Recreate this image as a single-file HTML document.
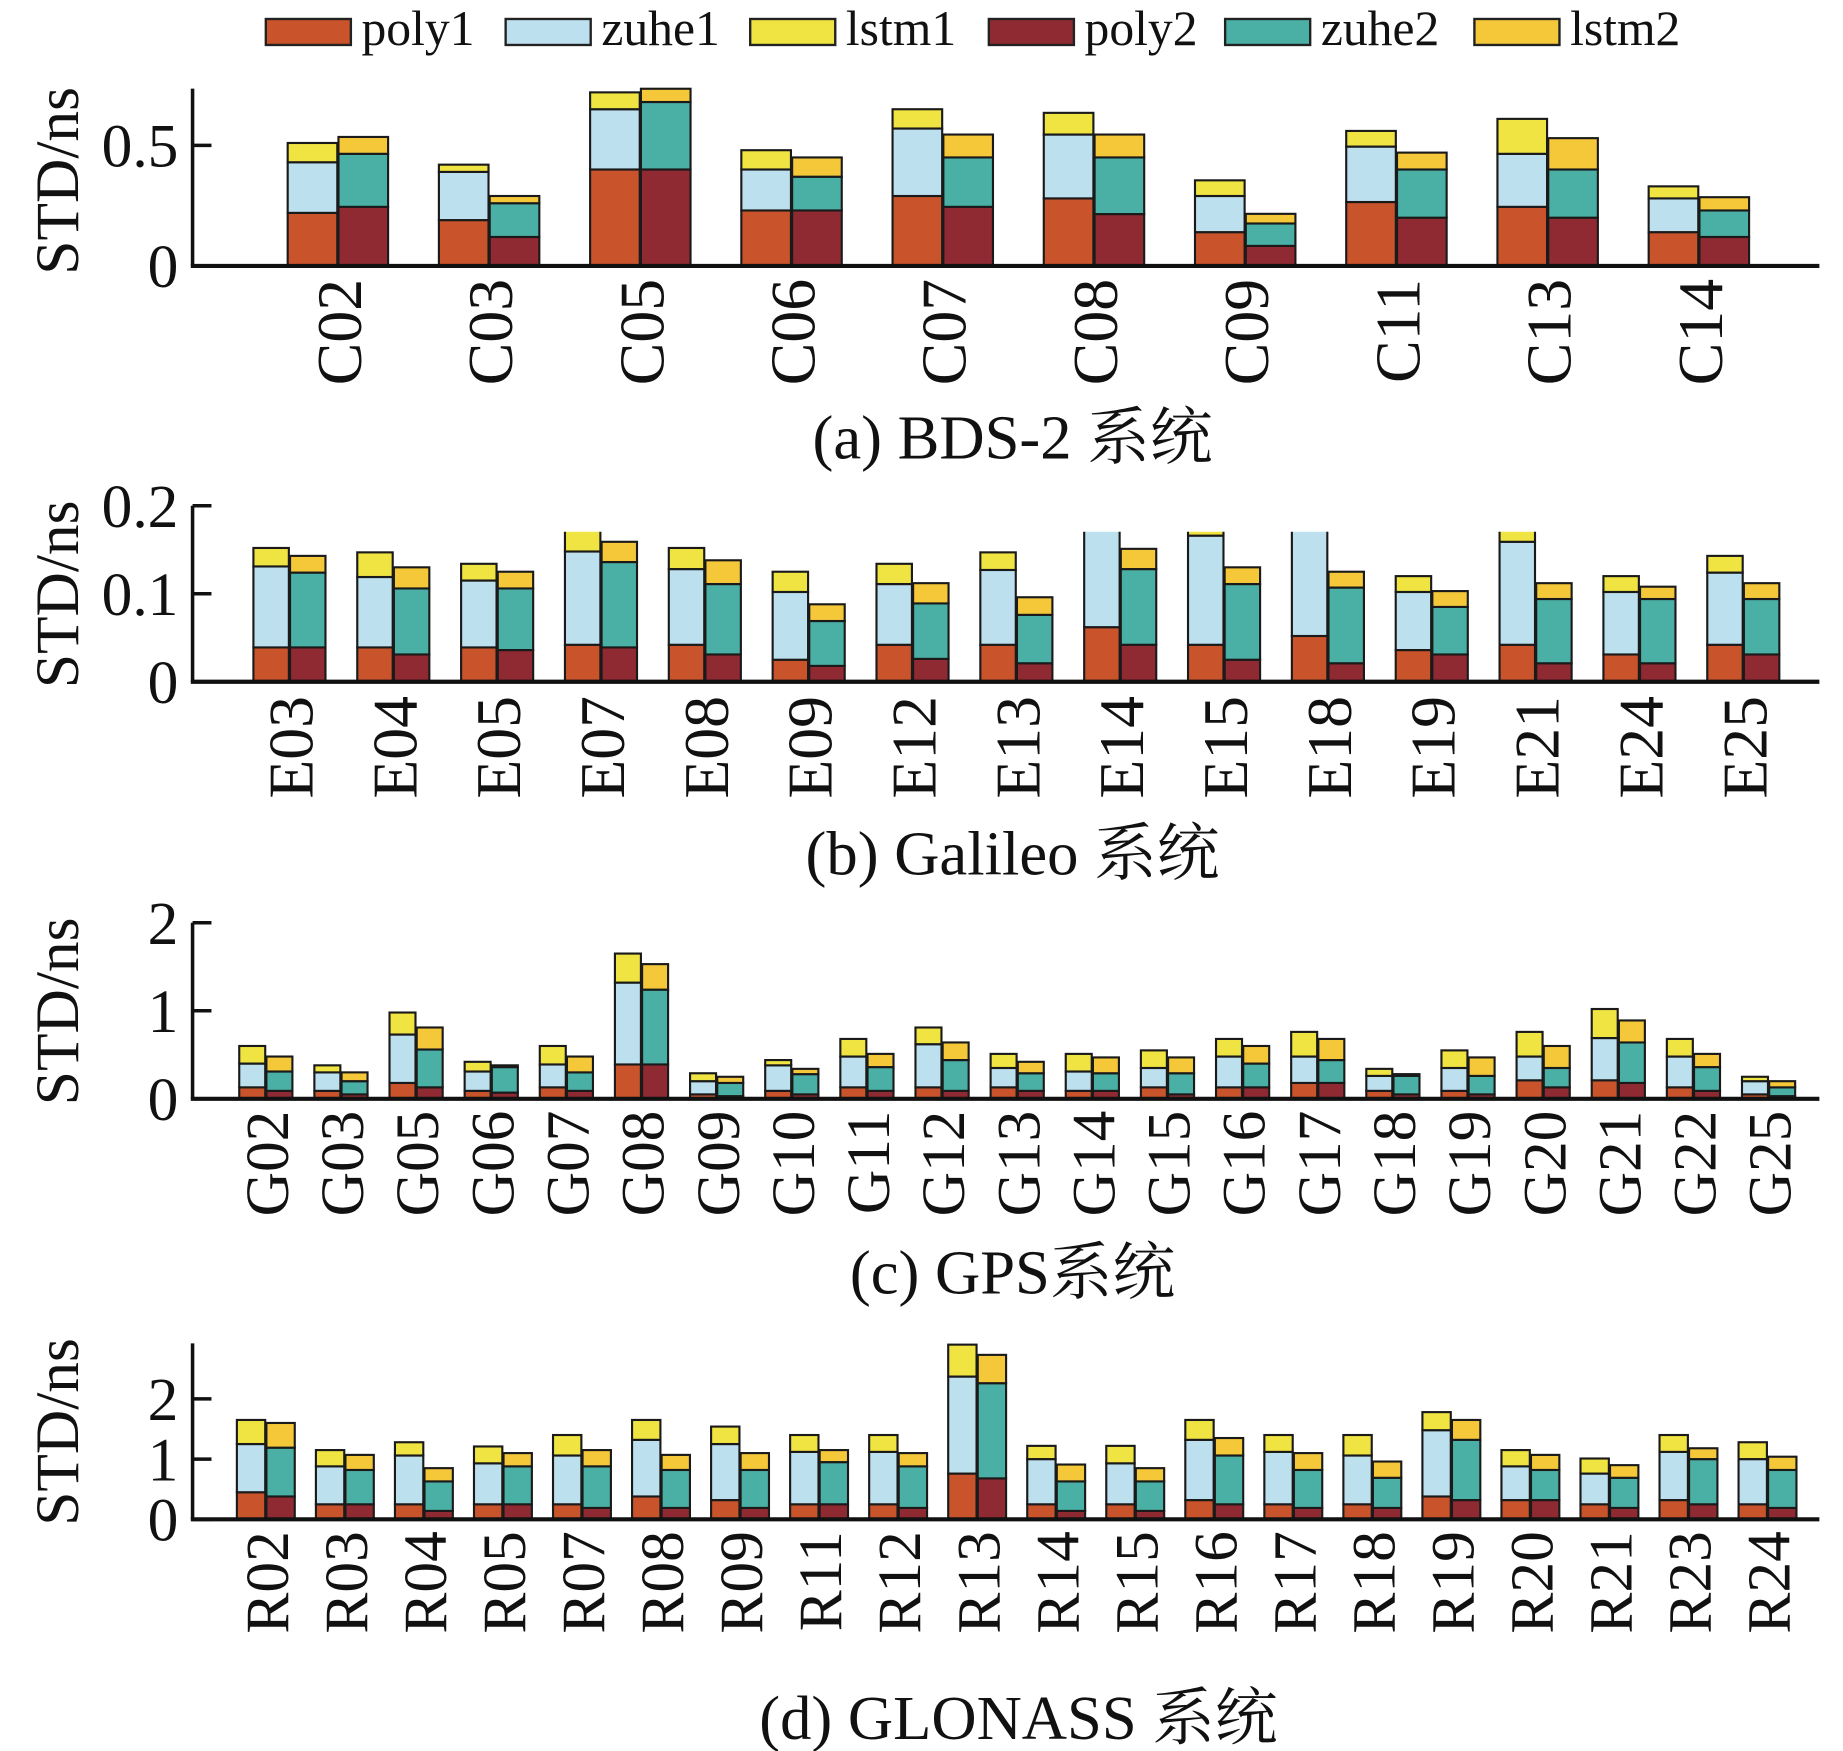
<!DOCTYPE html>
<html><head><meta charset="utf-8">
<style>
html,body{margin:0;padding:0;background:#fff;}
svg{display:block;}
text{font-family:"Liberation Serif","Noto Serif CJK SC","Noto Sans CJK SC",serif;fill:#111;}
</style></head>
<body>
<svg id="chart" width="1843" height="1751" viewBox="0 0 1560 1482" xmlns="http://www.w3.org/2000/svg">
  <g id="legend"></g>
</svg>
<script>
// ---- data ----
const seriesNames = ["poly1","zuhe1","lstm1","poly2","zuhe2","lstm2"];
const seriesColors = ["#c9532b","#bde0ef","#f0e442","#8f2a32","#4aafa5","#f5c83a"];

const catsA = ["C02","C03","C05","C06","C07","C08","C09","C11","C13","C14"];
const a_poly1 = [0.22,0.19,0.40,0.23,0.29,0.28,0.14,0.265,0.245,0.14];
const a_zuhe1 = [0.21,0.20,0.25,0.17,0.28,0.265,0.15,0.23,0.22,0.14];
const a_lstm1 = [0.08,0.03,0.07,0.08,0.08,0.09,0.065,0.065,0.145,0.05];
const a_poly2 = [0.245,0.12,0.40,0.23,0.245,0.215,0.083,0.20,0.20,0.12];
const a_zuhe2 = [0.22,0.14,0.28,0.14,0.205,0.235,0.093,0.20,0.20,0.11];
const a_lstm2 = [0.07,0.03,0.055,0.08,0.095,0.095,0.04,0.07,0.13,0.055];
const ticksA = ["0","0.5"];
const tickValsA = [0,0.5];

const catsB = ["E03","E04","E05","E07","E08","E09","E12","E13","E14","E15","E18","E19","E21","E24","E25"];
const b_poly1 = [0.039,0.039,0.039,0.042,0.042,0.025,0.042,0.042,0.062,0.042,0.052,0.036,0.042,0.031,0.042];
const b_zuhe1 = [0.092,0.080,0.076,0.106,0.086,0.077,0.069,0.085,0.12,0.124,0.13,0.066,0.117,0.071,0.082];
const b_lstm1 = [0.021,0.028,0.019,0.025,0.024,0.023,0.023,0.020,0.02,0.01,0.02,0.018,0.02,0.018,0.019];
const b_poly2 = [0.039,0.031,0.036,0.039,0.031,0.018,0.026,0.021,0.042,0.025,0.021,0.031,0.021,0.021,0.031];
const b_zuhe2 = [0.085,0.075,0.070,0.097,0.080,0.051,0.063,0.055,0.086,0.086,0.086,0.054,0.073,0.073,0.063];
const b_lstm2 = [0.019,0.024,0.019,0.023,0.027,0.019,0.023,0.020,0.023,0.019,0.018,0.018,0.018,0.014,0.018];
const ticksB = ["0","0.1","0.2"];
const tickValsB = [0,0.1,0.2];

const catsC = ["G02","G03","G05","G06","G07","G08","G09","G10","G11","G12","G13","G14","G15","G16","G17","G18","G19","G20","G21","G22","G25"];
const c_poly1 = [0.13,0.09,0.18,0.09,0.13,0.39,0.05,0.09,0.13,0.13,0.13,0.09,0.13,0.13,0.18,0.09,0.09,0.21,0.21,0.13,0.05];
const c_zuhe1 = [0.27,0.21,0.55,0.22,0.26,0.93,0.15,0.29,0.35,0.49,0.22,0.22,0.22,0.35,0.30,0.17,0.26,0.27,0.48,0.35,0.15];
const c_lstm1 = [0.20,0.08,0.25,0.11,0.21,0.33,0.09,0.06,0.20,0.19,0.16,0.20,0.20,0.20,0.28,0.08,0.20,0.28,0.33,0.20,0.05];
const c_poly2 = [0.09,0.05,0.13,0.07,0.09,0.39,0.03,0.05,0.09,0.09,0.09,0.09,0.05,0.13,0.18,0.05,0.05,0.13,0.18,0.09,0.03];
const c_zuhe2 = [0.22,0.15,0.43,0.29,0.21,0.85,0.15,0.23,0.27,0.35,0.20,0.20,0.24,0.27,0.26,0.21,0.21,0.22,0.46,0.27,0.10];
const c_lstm2 = [0.17,0.10,0.25,0.02,0.18,0.29,0.07,0.06,0.15,0.20,0.13,0.18,0.18,0.20,0.24,0.02,0.21,0.25,0.25,0.15,0.07];
const ticksC = ["0","1","2"];
const tickValsC = [0,1,2];

const catsD = ["R02","R03","R04","R05","R07","R08","R09","R11","R12","R13","R14","R15","R16","R17","R18","R19","R20","R21","R23","R24"];
const d_poly1 = [0.45,0.25,0.25,0.25,0.25,0.38,0.32,0.25,0.25,0.76,0.25,0.25,0.32,0.25,0.25,0.38,0.32,0.25,0.32,0.25];
const d_zuhe1 = [0.80,0.63,0.81,0.68,0.81,0.94,0.93,0.87,0.87,1.61,0.75,0.68,1.00,0.87,0.81,1.10,0.56,0.51,0.80,0.75];
const d_lstm1 = [0.40,0.27,0.22,0.28,0.34,0.33,0.29,0.28,0.28,0.53,0.22,0.29,0.33,0.28,0.34,0.30,0.27,0.25,0.28,0.28];
const d_poly2 = [0.38,0.25,0.14,0.25,0.19,0.19,0.19,0.25,0.19,0.68,0.14,0.14,0.25,0.19,0.19,0.32,0.32,0.19,0.25,0.19];
const d_zuhe2 = [0.81,0.57,0.49,0.63,0.69,0.63,0.63,0.70,0.69,1.58,0.49,0.49,0.81,0.63,0.50,1.00,0.50,0.50,0.75,0.63];
const d_lstm2 = [0.41,0.25,0.22,0.22,0.27,0.25,0.28,0.20,0.22,0.47,0.28,0.22,0.29,0.28,0.27,0.33,0.25,0.21,0.18,0.22];
const ticksD = ["0","1","2"];
const tickValsD = [0,1,2];

// ---- drawing ----
const NS = "http://www.w3.org/2000/svg";
const svg = document.getElementById("chart");
function mk(tag, attrs, parent){
  const e = document.createElementNS(NS, tag);
  for (const k in attrs) e.setAttribute(k, attrs[k]);
  (parent||svg).appendChild(e);
  return e;
}

// legend
const legend = document.getElementById("legend");
const legBoxX = [225,428,635,837,1037,1248];
seriesNames.forEach((n,i)=>{
  const g = mk("g",{},legend);
  
  
  const r = mk("rect",{x:legBoxX[i],y:16,width:72,height:22,fill:seriesColors[i],stroke:"#222","stroke-width":2},g);
  
  
  const t = mk("text",{x:legBoxX[i]+81,y:38,"font-size":42},g);
  
  
  t.textContent = n;
});

function panel(cfg){
  const g = mk("g",{});
  
  
  const y = v => cfg.base - v*cfg.scale;
  const xc = i => cfg.first + i*cfg.step;
  const clipId = cfg.name+"-clip";
  const cp = mk("clipPath",{id:clipId},g);
  mk("rect",{x:cfg.x0,y:cfg.clipTop,width:cfg.x1-cfg.x0,height:cfg.base-cfg.clipTop+2},cp);
  const bars = mk("g",{"clip-path":"url(#"+clipId+")"},g);
  
  
  const w = cfg.bw;
  cfg.cats.forEach((c,i)=>{
    [[0,[cfg.s[0],cfg.s[1],cfg.s[2]],-1],[1,[cfg.s[3],cfg.s[4],cfg.s[5]],1]].forEach(([k,ser,side])=>{
      const left = side<0 ? xc(i)-w-0.5 : xc(i)+0.5;
      let cum = 0;
      ser.forEach((arr,j)=>{
        const v = arr[i];
        const r = mk("rect",{x:left,y:y(cum+v),width:w,height:Math.max(0,v*cfg.scale),fill:seriesColors[k*3+j],stroke:"#1a1a1a","stroke-width":1.8},bars);
        
        
        cum += v;
      });
    });
    const t = mk("text",{x:0,y:0,"font-size":cfg.fs,"text-anchor":"end",transform:"translate("+(xc(i)+cfg.fs*0.36)+","+cfg.labTop+") rotate(-90)"},g);
    
    
    t.textContent = c;
  });
  // axes
  const ya = mk("line",{x1:cfg.x0,y1:cfg.top,x2:cfg.x0,y2:cfg.base,stroke:"#111","stroke-width":3},g);
  
  
  const xa = mk("line",{x1:cfg.x0-1.5,y1:cfg.base,x2:cfg.x1,y2:cfg.base,stroke:"#111","stroke-width":3.5},g);
  
  
  cfg.tickVals.forEach((v,i)=>{
    const tl = mk("line",{x1:cfg.x0,y1:y(v),x2:cfg.x0+16,y2:y(v),stroke:"#111","stroke-width":3},g);
    
    
    const tt = mk("text",{x:cfg.x0-12,y:y(v)+18,"font-size":52,"text-anchor":"end"},g);
    
    
    tt.textContent = cfg.ticks[i];
  });
  const yl = mk("text",{x:0,y:0,"font-size":52,"text-anchor":"middle",transform:"translate(66,"+cfg.ylabY+") rotate(-90)"},g);
  
  
  yl.textContent = "STD/ns";
  const cap = mk("text",{x:cfg.capX,y:cfg.capY,"font-size":53,"text-anchor":"middle"},g);
  
  
  cap.textContent = cfg.caption;
}

panel({name:"panel-bds2",cats:catsA,s:[a_poly1,a_zuhe1,a_lstm1,a_poly2,a_zuhe2,a_lstm2],
  base:225,scale:204,top:75,clipTop:60,x0:163,x1:1540,first:286,step:128,bw:42,fs:54,labTop:236,
  ticks:ticksA,tickVals:tickValsA,ylabY:153,caption:"(a) BDS-2 系统",capX:857,capY:388});
panel({name:"panel-galileo",cats:catsB,s:[b_poly1,b_zuhe1,b_lstm1,b_poly2,b_zuhe2,b_lstm2],
  base:577,scale:745,top:428,clipTop:450,x0:163,x1:1540,first:245,step:87.9,bw:30,fs:54,labTop:589,
  ticks:ticksB,tickVals:tickValsB,ylabY:503,caption:"(b) Galileo 系统",capX:857,capY:740});
panel({name:"panel-gps",cats:catsC,s:[c_poly1,c_zuhe1,c_lstm1,c_poly2,c_zuhe2,c_lstm2],
  base:930,scale:74.5,top:781,clipTop:760,x0:163,x1:1540,first:225,step:63.6,bw:22,fs:52,labTop:940,
  ticks:ticksC,tickVals:tickValsC,ylabY:856,caption:"(c) GPS系统",capX:857,capY:1095});
panel({name:"panel-glonass",cats:catsD,s:[d_poly1,d_zuhe1,d_lstm1,d_poly2,d_zuhe2,d_lstm2],
  base:1286,scale:51,top:1137,clipTop:1120,x0:163,x1:1540,first:225,step:66.9,bw:24,fs:52,labTop:1296,
  ticks:ticksD,tickVals:tickValsD,ylabY:1212,caption:"(d) GLONASS 系统",capX:862,capY:1472});
</script>
</body></html>
